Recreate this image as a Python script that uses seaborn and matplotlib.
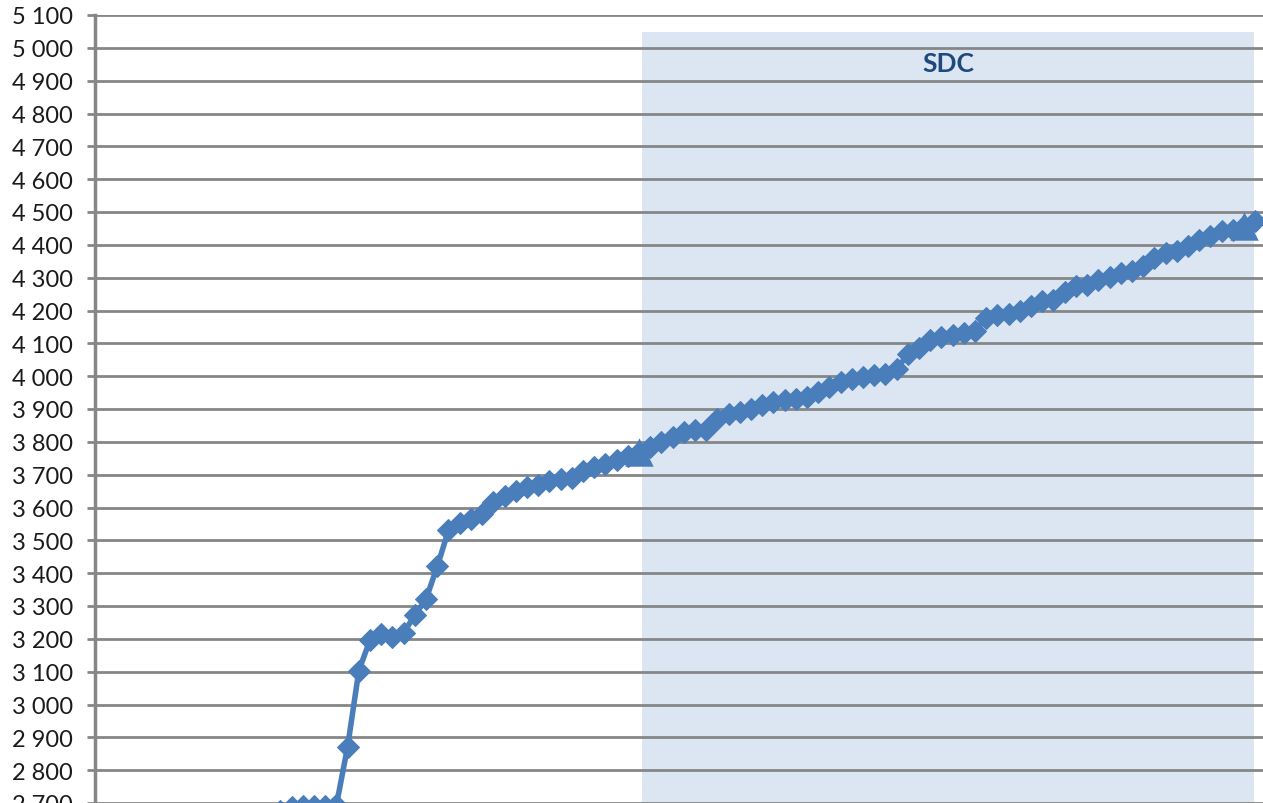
import numpy as np
import pandas as pd
import matplotlib
matplotlib.use("Agg")
import matplotlib.pyplot as plt
import seaborn as sns

# series values, one per category (0..103)
values = [
    2500, 2515, 2530, 2540, 2555, 2565, 2580, 2590, 2600, 2612,
    2620, 2630, 2640, 2650, 2660, 2668, 2676, 2688, 2690, 2691,
    2692, 2694, 2872, 3103, 3197, 3215, 3205, 3218, 3273, 3321,
    3421, 3530, 3552, 3564, 3579, 3618, 3635, 3650, 3663, 3668,
    3680, 3687, 3690, 3710, 3724, 3732, 3745, 3758, 3768, 3785,
    3800, 3815, 3830, 3836, 3835, 3870, 3885, 3890, 3900, 3912,
    3921, 3927, 3930, 3936, 3951, 3967, 3982, 3991, 3997, 4003,
    4006, 4021, 4067, 4085, 4110, 4118, 4125, 4132, 4138, 4178,
    4185, 4188, 4200, 4215, 4230, 4233, 4255, 4276, 4279, 4294,
    4303, 4315, 4321, 4336, 4360, 4375, 4382, 4397, 4415, 4427,
    4442, 4445, 4458, 4473,
]
idx = list(range(len(values)))

# start / end markers of the SDC period
tri_x = [48, 102]
tri_y = [3770, 4458]

# SDC band
sdc_label = "SDC"
sdc_start, sdc_end, sdc_top = 48.3, 102.9, 5048

y_ticks = list(range(2700, 5101, 100))

blue = "#4A7EBB"
grid_c = "#868686"

sns.set_style("white")
plt.rcParams["font.family"] = ["Lato", "DejaVu Sans"]

fig = plt.figure(figsize=(12.63, 8.04), dpi=100)
ax = fig.add_axes([95 / 1263, 0, 1168 / 1263, 788 / 804])

ymin, ymax = 2712, 5100
ax.set_ylim(ymin, ymax)
ax.set_xlim(-0.55, 103.7)

ax.axvspan(sdc_start, sdc_end, ymin=0, ymax=(sdc_top - ymin) / (ymax - ymin),
           color="#DCE6F2", lw=0, zorder=0.8)
ax.text((sdc_start + sdc_end) / 2, 4955, sdc_label, ha="center", va="center",
        fontsize=19, fontweight="bold", color="#1F497D", zorder=3)

df = pd.DataFrame({"i": idx, "v": values})
sns.lineplot(data=df, x="i", y="v", ax=ax, color=blue, linewidth=4,
             marker="D", markersize=11, markeredgecolor=blue, zorder=4)
sns.scatterplot(x=tri_x, y=tri_y, ax=ax, marker="^", s=420, color=blue,
                edgecolor=blue, linewidth=0, zorder=5)

ax.set_yticks(y_ticks)
ax.set_yticklabels([f"{t:,}".replace(",", " ") for t in y_ticks])
ax.set_xticks([])
ax.set_xlabel("")
ax.set_ylabel("")
ax.yaxis.grid(True, color=grid_c, linewidth=2)
ax.set_axisbelow("line")
ax.tick_params(axis="y", left=True, length=6, width=2, color=grid_c,
               labelsize=17, labelcolor="#1a1a1a", pad=10)

for s in ["top", "right", "bottom"]:
    ax.spines[s].set_visible(False)
ax.spines["left"].set_color(grid_c)
ax.spines["left"].set_linewidth(2.5)

fig.savefig("out.png", dpi=100)
